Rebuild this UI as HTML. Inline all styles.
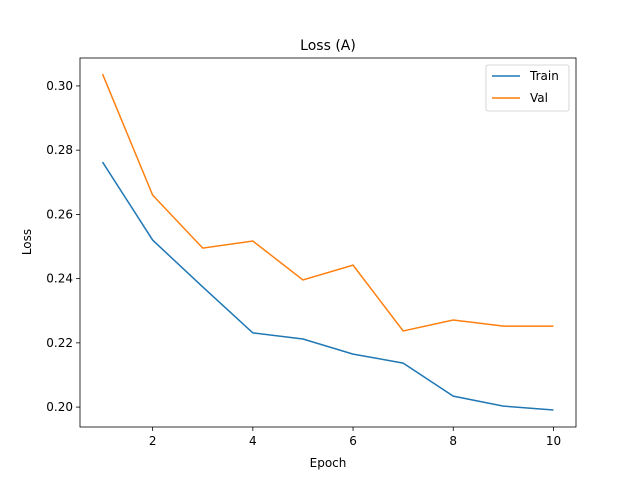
<!DOCTYPE html>
<html><head><meta charset="utf-8"><style>
body{margin:0;background:#fff}
svg{font-family:"DejaVu Sans","Liberation Sans",sans-serif}
</style></head><body>
<svg id="chart" width="640" height="480" xmlns="http://www.w3.org/2000/svg">
<rect width="640" height="480" fill="#fff"/>
<text x="328" y="50" font-size="14" text-anchor="middle">Loss (A)</text>
<g id="plot"></g>
<rect x="80" y="58" width="496" height="369" fill="none" stroke="#000" stroke-width="0.8"/>
<text x="328" y="467" font-size="12" text-anchor="middle">Epoch</text>
<text x="31" y="242" font-size="12" text-anchor="middle" transform="rotate(-90 31 242)">Loss</text>
<g>
<rect x="486" y="65" width="83" height="46" rx="2" fill="#fff" stroke="#ccc" stroke-width="0.8"/>
<line x1="492" y1="76" x2="520" y2="76" stroke="#1f77b4" stroke-width="1.5"/>
<text x="530" y="80" font-size="12">Train</text>
<line x1="492" y1="98" x2="520" y2="98" stroke="#ff7f0e" stroke-width="1.5"/>
<text x="530" y="102" font-size="12">Val</text>
</g>
</svg>
<script>
const epochs=[1,2,3,4,5,6,7,8,9,10];
const trainLoss=[0.2763,0.2520,0.2374,0.2231,0.2212,0.2165,0.2137,0.2034,0.2003,0.1991];
const valLoss=[0.3037,0.2660,0.2495,0.2517,0.2396,0.2442,0.2237,0.2271,0.2252,0.2252];
const xTicks=[2,4,6,8,10];
const yTicks=[0.20,0.22,0.24,0.26,0.28,0.30];
const X0=80,X1=576,Y0=58,Y1=427;
const xMin=0.55,xMax=10.45,yMin=0.1938,yMax=0.3087;
function sx(v){return X0+(v-xMin)/(xMax-xMin)*(X1-X0);}
function sy(v){return Y1-(v-yMin)/(yMax-yMin)*(Y1-Y0);}
const NS="http://www.w3.org/2000/svg";
const g=document.getElementById('plot');
function mk(t,a){const e=document.createElementNS(NS,t);for(const k in a)e.setAttribute(k,a[k]);g.appendChild(e);return e;}
xTicks.forEach(v=>{
  const l=mk('line',{x1:sx(v),x2:sx(v),y1:Y1,y2:Y1+4,stroke:'#000','stroke-width':0.8});
  
  
  const t=mk('text',{x:sx(v),y:Y1+18,'font-size':12,'text-anchor':'middle'});t.textContent=v;
  
  
});
yTicks.forEach(v=>{
  const l=mk('line',{x1:X0-4,x2:X0,y1:sy(v),y2:sy(v),stroke:'#000','stroke-width':0.8});
  
  
  const t=mk('text',{x:X0-7,y:sy(v)+4,'font-size':12,'text-anchor':'end'});t.textContent=v.toFixed(2);
  
  
});
function line(vals,color,name){
  const p=mk('polyline',{points:epochs.map((e,i)=>sx(e)+','+sy(vals[i])).join(' '),fill:'none',stroke:color,'stroke-width':1.5});
  
  
}
line(trainLoss,'#1f77b4','train-line');
line(valLoss,'#ff7f0e','val-line');
</script>
</body></html>
